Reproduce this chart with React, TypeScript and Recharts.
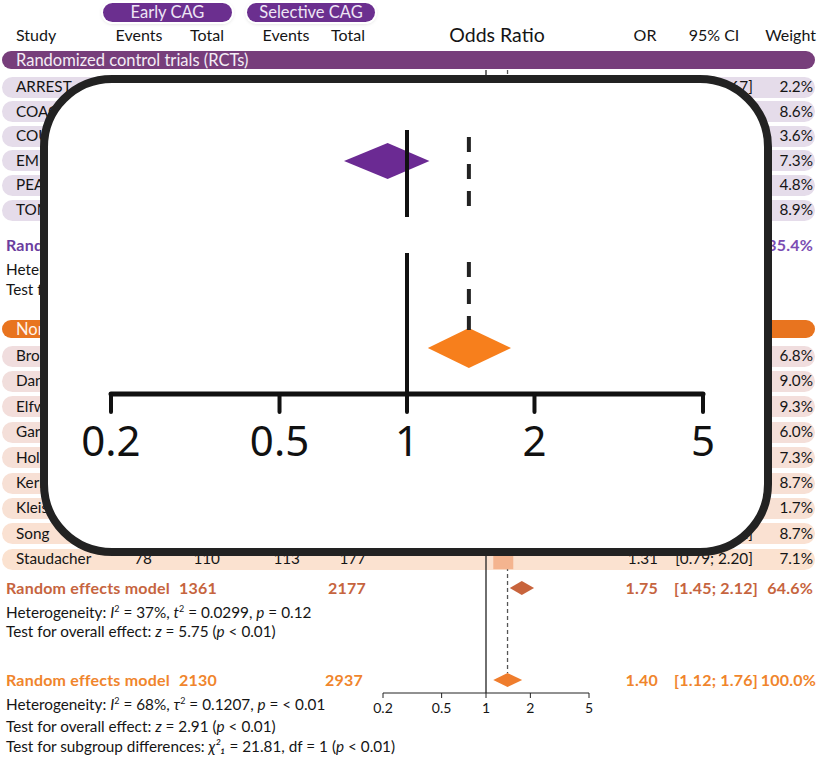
import React from "react";
import { ComposedChart, XAxis, YAxis, Area, Scatter, ReferenceLine } from "recharts";

// ---- data (null = hidden behind the zoom inset) ----
const ticks = [0.2, 0.5, 1, 2, 5];

const rctNames = ["ARREST", "COACT", "COUPE", "EMERGE", "PEARL", "TOMAHAWK"];
const rctOR = [0.61, null, null, null, null, null];
const rctLo = [0.22, null, null, null, null, null];
const rctHi = [1.67, null, null, null, null, null];
const rctWeight = [2.2, 8.6, 3.6, 7.3, 4.8, 8.9];

const nrsNames = ["Bro-Jeppesen", "Dankiewicz", "Elfwén", "Garcia", "Hollenbeck", "Kern", "Kleissner", "Song", "Staudacher"];
const nrsEarlyEvents = [null, null, null, null, null, null, null, null, 78];
const nrsEarlyTotal = [null, null, null, null, null, null, null, null, 110];
const nrsSelEvents = [null, null, null, null, null, null, null, null, 113];
const nrsSelTotal = [null, null, null, null, null, null, null, null, 177];
const nrsOR = [null, null, null, null, null, null, null, 1.84, 1.31];
const nrsLo = [null, null, null, null, null, null, null, 1.29, 0.79];
const nrsHi = [null, null, null, null, null, null, null, 2.62, 2.2];
const nrsWeight = [6.8, 9.0, 9.3, 6.0, 7.3, 8.7, 1.7, 8.7, 7.1];

// summaries: [OR, lower, upper, weight]
const rctSummary = [0.9, 0.71, 1.13, 35.4];
const nrsSummary = [1.75, 1.45, 2.12, 64.6];
const allSummary = [1.4, 1.12, 1.76, 100.0];
const nrsTotals = [1361, 2177];
const allTotals = [2130, 2937];

// ---- layout ----
const FONT = "Lato, 'Noto Sans', sans-serif";
const W = 817;
const H = 757;
const AXIS_Y = 693;
const RCT_Y0 = 87;
const RCT_STEP = 24.6;
const NRS_Y0 = 356;
const NRS_STEP = 25.4;
const rctY = rctNames.map((_, i) => RCT_Y0 + i * RCT_STEP);
const nrsY = nrsNames.map((_, i) => NRS_Y0 + i * NRS_STEP);
const RCT_RE_Y = 245;
const NRS_RE_Y = 588;
const ALL_RE_Y = 680;

const COL = { name: 16, ev1: 152, tot1: 220, ev2: 300, tot2: 366, or: 658, ci: 714, w: 813 };

const PURPLE = "#6b3d9e";
const BROWN = "#c6643e";
const ORANGE = "#f0852c";
const BOLD = { fontWeight: 700, fontSize: 16, letterSpacing: 0.2 };

const fmt = (v: number | null) => (v == null ? "" : v.toFixed(2));
const ciText = (lo: number | null, hi: number | null) => (lo == null || hi == null ? "" : `[${fmt(lo)}; ${fmt(hi)}]`);

const T = ({ x, y, a = "left", children, style }: any) => (
  <div
    style={{
      position: "absolute",
      left: x,
      top: y,
      transform: `translate(${a === "left" ? "0" : a === "right" ? "-100%" : "-50%"}, -50%)`,
      whiteSpace: "nowrap",
      lineHeight: 1,
      fontFamily: FONT,
      fontSize: 15.3,
      color: "#151515",
      ...style,
    }}
  >
    {children}
  </div>
);

const Pill = ({ y, bg, h = 21 }: any) => (
  <div
    style={{
      position: "absolute",
      left: 2,
      width: 813,
      top: y - h / 2,
      height: h,
      borderRadius: h / 2,
      background: bg,
    }}
  />
);

const diamond = (s: number[], yc: number, h: number) => [
  { x: s[1], band: [yc, yc] },
  { x: s[0], band: [yc - h, yc + h] },
  { x: s[2], band: [yc, yc] },
];

const SquareShape = (props: any) => {
  const { cx, cy, payload } = props;
  const s = Math.sqrt(payload.w) * 7.5;
  return <rect x={cx - s / 2} y={cy - s / 2} width={s} height={s} fill="#f4b48f" />;
};

const squares = [
  ...rctNames.map((_, i) => ({ x: rctOR[i], y: rctY[i], w: rctWeight[i] })),
  ...nrsNames.map((_, i) => ({ x: nrsOR[i], y: nrsY[i], w: nrsWeight[i] })),
].filter((d) => d.x != null);

const nrsPill = (i: number) => {
  const t = i / (nrsNames.length - 1);
  const a = [240, 221, 222];
  const b = [251, 226, 208];
  const c = a.map((v, k) => Math.round(v + (b[k] - v) * t));
  return `rgb(${c[0]},${c[1]},${c[2]})`;
};

const MainChart = () => (
  <ComposedChart width={W} height={H} margin={{ top: 0, right: W - 589, bottom: 0, left: 383 }}>
    <XAxis
      type="number"
      dataKey="x"
      scale="log"
      domain={[0.2, 5]}
      ticks={ticks}
      allowDataOverflow
      interval={0}
      height={H - AXIS_Y}
      tickSize={5}
      tickMargin={5}
      axisLine={{ stroke: "#222" }}
      tickLine={{ stroke: "#222" }}
      tick={{ fontSize: 14, fill: "#151515", fontFamily: FONT }}
      tickFormatter={(v) => String(v)}
    />
    <YAxis type="number" dataKey="y" domain={[0, AXIS_Y]} reversed hide allowDataOverflow />
    <ReferenceLine segment={[{ x: 1, y: 70 }, { x: 1, y: AXIS_Y }]} stroke="#222" strokeWidth={1.3} />
    <ReferenceLine
      segment={[{ x: allSummary[0], y: 70 }, { x: allSummary[0], y: ALL_RE_Y - 7 }]}
      stroke="#555"
      strokeWidth={1.3}
      strokeDasharray="4 3"
    />
    <Area data={diamond(rctSummary, RCT_RE_Y, 7)} dataKey="band" type="linear" stroke="none" fill="#6b2a93" fillOpacity={1} isAnimationActive={false} activeDot={false} />
    <Area data={diamond(nrsSummary, NRS_RE_Y, 7)} dataKey="band" type="linear" stroke="none" fill="#c8643c" fillOpacity={1} isAnimationActive={false} activeDot={false} />
    <Area data={diamond(allSummary, ALL_RE_Y, 7)} dataKey="band" type="linear" stroke="none" fill="#ef7d2d" fillOpacity={1} isAnimationActive={false} activeDot={false} />
    <Scatter data={squares} shape={SquareShape} isAnimationActive={false} />
  </ComposedChart>
);

const InsetChart = () => (
  <ComposedChart width={716} height={465} margin={{ top: 0, right: 61, bottom: 0, left: 63 }}>
    <XAxis
      type="number"
      dataKey="x"
      scale="log"
      domain={[0.2, 5]}
      ticks={ticks}
      allowDataOverflow
      interval={0}
      height={154}
      tickSize={18}
      tickMargin={14}
      axisLine={{ stroke: "#111", strokeWidth: 5, strokeLinecap: "round" }}
      tickLine={{ stroke: "#111", strokeWidth: 4, strokeLinecap: "round" }}
      tick={{ fontSize: 42, fill: "#111", fontFamily: "'Noto Sans', sans-serif" }}
      tickFormatter={(v) => String(v)}
    />
    <YAxis type="number" dataKey="y" domain={[0, 311]} reversed hide allowDataOverflow />
    <ReferenceLine segment={[{ x: 1, y: 47 }, { x: 1, y: 134 }]} stroke="#111" strokeWidth={4} />
    <ReferenceLine segment={[{ x: 1, y: 170 }, { x: 1, y: 311 }]} stroke="#111" strokeWidth={4} />
    <ReferenceLine segment={[{ x: allSummary[0], y: 54 }, { x: allSummary[0], y: 124 }]} stroke="#222" strokeWidth={4} strokeDasharray="15 12" />
    <ReferenceLine segment={[{ x: allSummary[0], y: 179 }, { x: allSummary[0], y: 247 }]} stroke="#222" strokeWidth={4} strokeDasharray="15 12" />
    <Area data={diamond(rctSummary, 78, 18)} dataKey="band" type="linear" stroke="none" fill="#6b2a93" fillOpacity={1} isAnimationActive={false} activeDot={false} />
    <Area data={diamond(allSummary, 265, 20)} dataKey="band" type="linear" stroke="none" fill="#f77f1c" fillOpacity={1} isAnimationActive={false} activeDot={false} />
  </ComposedChart>
);

const headPill = (x: number, w: number, label: string) => (
  <div
    style={{
      position: "absolute",
      left: x,
      top: 3,
      width: w,
      height: 19,
      borderRadius: 10,
      background: "#6b2f8f",
      boxShadow: "0 0 0 2px #fff, 0 1px 4px rgba(0,0,0,0.25)",
      color: "#eee6f5",
      fontFamily: FONT,
      fontSize: 16.5,
      lineHeight: "19px",
      textAlign: "center",
    }}
  >
    {label}
  </div>
);

export default function App() {
  return (
    <div style={{ position: "absolute", left: 0, top: 0, width: W, height: H, background: "#fff", overflow: "hidden" }}>
      {/* header */}
      {headPill(103, 129, "Early CAG")}
      {headPill(247, 128, "Selective CAG")}
      <T x={COL.name} y={35} style={{ fontSize: 16 }}>Study</T>
      <T x={139} y={35} a="center" style={{ fontSize: 16 }}>Events</T>
      <T x={207} y={35} a="center" style={{ fontSize: 16 }}>Total</T>
      <T x={286} y={35} a="center" style={{ fontSize: 16 }}>Events</T>
      <T x={348} y={35} a="center" style={{ fontSize: 16 }}>Total</T>
      <T x={497} y={35} a="center" style={{ fontSize: 19.5 }}>Odds Ratio</T>
      <T x={645} y={35} a="center" style={{ fontSize: 16 }}>OR</T>
      <T x={714} y={35} a="center" style={{ fontSize: 16 }}>95% CI</T>
      <T x={816} y={35} a="right" style={{ fontSize: 16 }}>Weight</T>

      {/* RCT group */}
      <Pill y={60} bg="#773e7b" h={18} />
      <T x={COL.name} y={60} style={{ color: "#f4edf5", fontSize: 16.5 }}>Randomized control trials (RCTs)</T>
      {rctNames.map((n, i) => (
        <React.Fragment key={n}>
          <Pill y={rctY[i]} bg="#e5dcea" />
          <T x={COL.name} y={rctY[i]}>{n}</T>
          <T x={COL.or} y={rctY[i]} a="right">{fmt(rctOR[i])}</T>
          <T x={COL.ci} y={rctY[i]} a="center">{ciText(rctLo[i], rctHi[i])}</T>
          <T x={COL.w} y={rctY[i]} a="right">{rctWeight[i].toFixed(1)}%</T>
        </React.Fragment>
      ))}
      <T x={6} y={RCT_RE_Y} style={{ color: PURPLE, ...BOLD }}>Random effects model</T>
      <T x={COL.or} y={RCT_RE_Y} a="right" style={{ color: PURPLE, ...BOLD }}>{fmt(rctSummary[0])}</T>
      <T x={COL.ci} y={RCT_RE_Y} a="center" style={{ color: PURPLE, ...BOLD }}>{ciText(rctSummary[1], rctSummary[2])}</T>
      <T x={COL.w} y={RCT_RE_Y} a="right" style={{ color: "#7b4db3", ...BOLD }}>{rctSummary[3].toFixed(1)}%</T>
      <T x={6} y={270}>Heterogeneity:</T>
      <T x={6} y={290}>Test for overall effect:</T>

      {/* NRS group */}
      <Pill y={329} bg="#e8741f" h={18} />
      <T x={COL.name} y={329} style={{ color: "#fff3ea", fontSize: 16.5 }}>Non-randomized studies (NRS)</T>
      {nrsNames.map((n, i) => (
        <React.Fragment key={n}>
          <Pill y={nrsY[i]} bg={nrsPill(i)} />
          <T x={COL.name} y={nrsY[i]}>{n}</T>
          <T x={COL.ev1} y={nrsY[i]} a="right">{nrsEarlyEvents[i] ?? ""}</T>
          <T x={COL.tot1} y={nrsY[i]} a="right">{nrsEarlyTotal[i] ?? ""}</T>
          <T x={COL.ev2} y={nrsY[i]} a="right">{nrsSelEvents[i] ?? ""}</T>
          <T x={COL.tot2} y={nrsY[i]} a="right">{nrsSelTotal[i] ?? ""}</T>
          <T x={COL.or} y={nrsY[i]} a="right">{fmt(nrsOR[i])}</T>
          <T x={COL.ci} y={nrsY[i]} a="center">{ciText(nrsLo[i], nrsHi[i])}</T>
          <T x={COL.w} y={nrsY[i]} a="right">{nrsWeight[i].toFixed(1)}%</T>
        </React.Fragment>
      ))}
      <T x={6} y={NRS_RE_Y} style={{ color: BROWN, ...BOLD }}>Random effects model</T>
      <T x={COL.tot1 - 3} y={NRS_RE_Y} a="right" style={{ color: BROWN, ...BOLD }}>{nrsTotals[0]}</T>
      <T x={COL.tot2} y={NRS_RE_Y} a="right" style={{ color: BROWN, ...BOLD }}>{nrsTotals[1]}</T>
      <T x={COL.or} y={NRS_RE_Y} a="right" style={{ color: BROWN, ...BOLD }}>{fmt(nrsSummary[0])}</T>
      <T x={COL.ci + 2} y={NRS_RE_Y} a="center" style={{ color: BROWN, ...BOLD }}>{ciText(nrsSummary[1], nrsSummary[2])}</T>
      <T x={COL.w} y={NRS_RE_Y} a="right" style={{ color: BROWN, ...BOLD }}>{nrsSummary[3].toFixed(1)}%</T>
      <T x={6} y={612}>
        Heterogeneity: <i>I</i><sup style={{ fontSize: 9 }}>2</sup> = 37%, <i>t</i><sup style={{ fontSize: 9 }}>2</sup> = 0.0299, <i>p</i> = 0.12
      </T>
      <T x={6} y={632}>
        Test for overall effect: <i>z</i> = 5.75 (<i>p</i> &lt; 0.01)
      </T>

      {/* overall */}
      <T x={6} y={ALL_RE_Y} style={{ color: ORANGE, ...BOLD }}>Random effects model</T>
      <T x={COL.tot1 - 3} y={ALL_RE_Y} a="right" style={{ color: ORANGE, ...BOLD }}>{allTotals[0]}</T>
      <T x={COL.tot2 - 3} y={ALL_RE_Y} a="right" style={{ color: ORANGE, ...BOLD }}>{allTotals[1]}</T>
      <T x={COL.or} y={ALL_RE_Y} a="right" style={{ color: ORANGE, ...BOLD }}>{fmt(allSummary[0])}</T>
      <T x={COL.ci + 2} y={ALL_RE_Y} a="center" style={{ color: ORANGE, ...BOLD }}>{ciText(allSummary[1], allSummary[2])}</T>
      <T x={816} y={ALL_RE_Y} a="right" style={{ color: ORANGE, ...BOLD }}>{allSummary[3].toFixed(1)}%</T>
      <T x={6} y={704}>
        Heterogeneity: <i>I</i><sup style={{ fontSize: 9 }}>2</sup> = 68%, <i>τ</i><sup style={{ fontSize: 9 }}>2</sup> = 0.1207, <i>p</i> = &lt; 0.01
      </T>
      <T x={6} y={727}>
        Test for overall effect: <i>z</i> = 2.91 (<i>p</i> &lt; 0.01)
      </T>
      <T x={6} y={747}>
        Test for subgroup differences: <i>χ²₁</i> = 21.81, df = 1 (<i>p</i> &lt; 0.01)
      </T>

      {/* forest plot */}
      <div style={{ position: "absolute", left: 0, top: 0, zIndex: 2 }}>
        <MainChart />
      </div>

      {/* zoom inset */}
      <div
        style={{
          position: "absolute",
          left: 40,
          top: 75,
          width: 732,
          height: 481,
          border: "8px solid #222",
          borderRadius: 72,
          background: "#fff",
          boxSizing: "border-box",
          overflow: "hidden",
          zIndex: 3,
        }}
      >
        <InsetChart />
      </div>
    </div>
  );
}
